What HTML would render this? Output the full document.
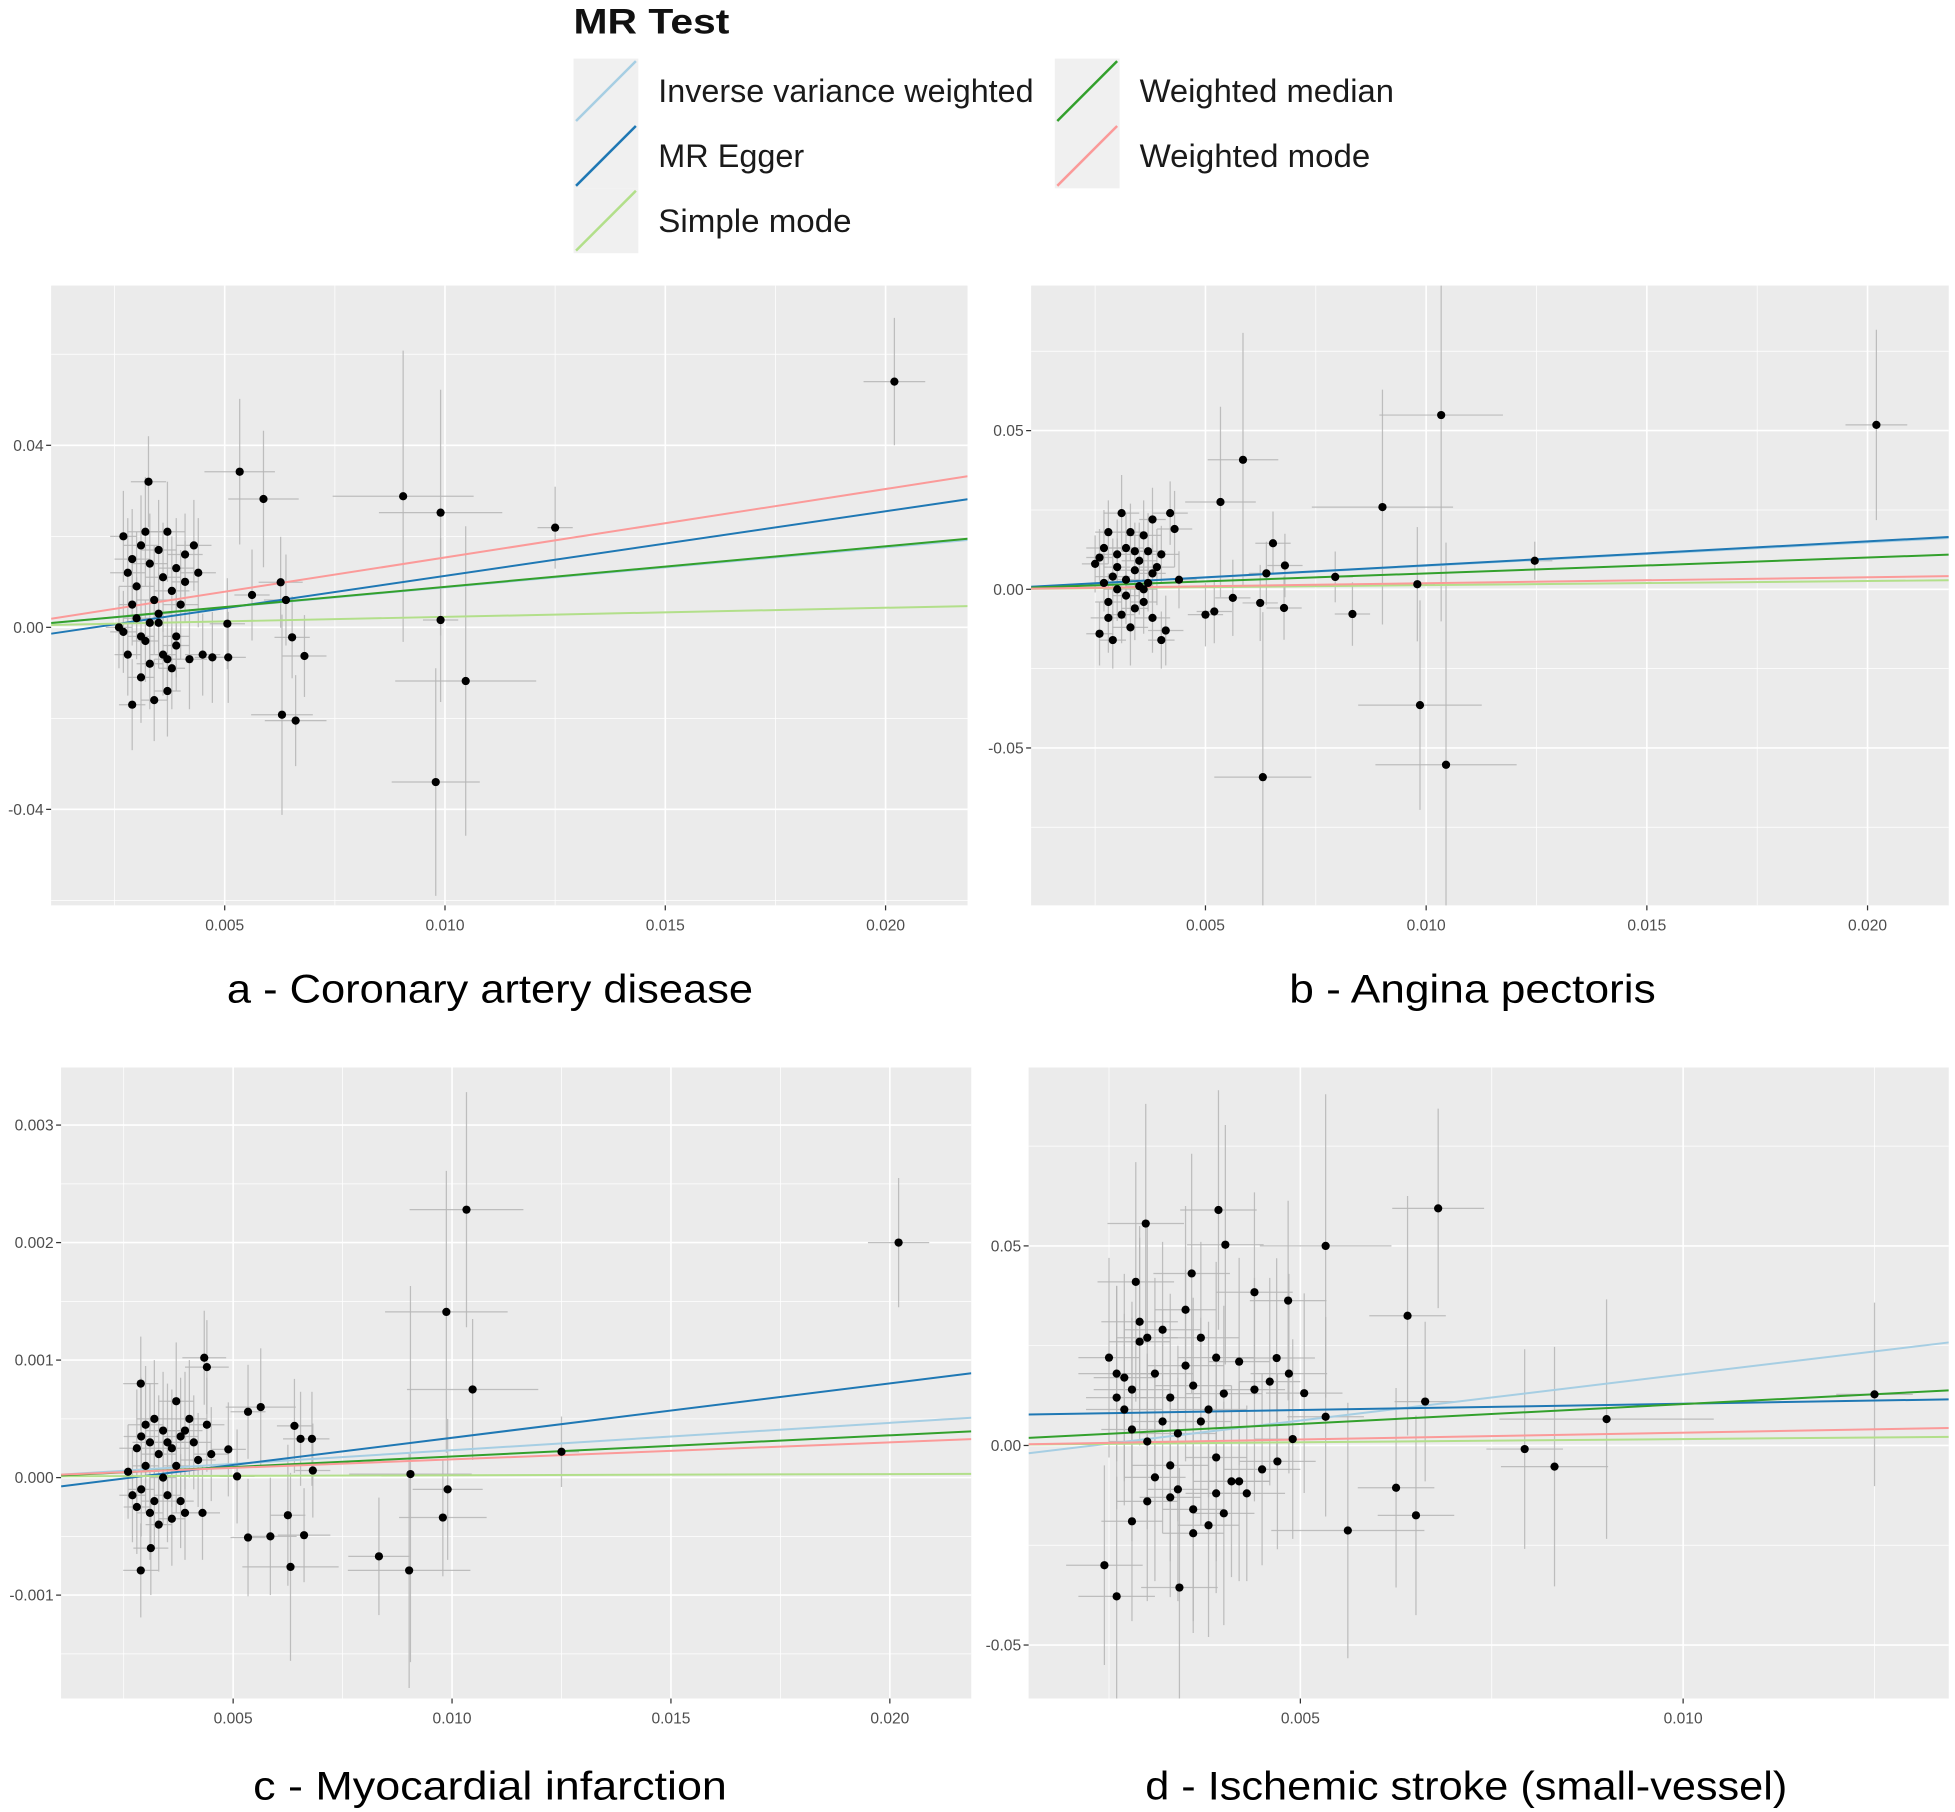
<!DOCTYPE html>
<html><head><meta charset="utf-8">
<style>
html,body{margin:0;padding:0;background:#fff;}
svg{display:block;}
text{font-family:"Liberation Sans",sans-serif;}
</style></head>
<body>
<svg id="fig" xmlns="http://www.w3.org/2000/svg" width="1955" height="1812" viewBox="0 0 1568 1453" preserveAspectRatio="none">
<g id="legend">
  <text x="460" y="27" font-size="28" font-weight="bold" fill="#111" textLength="125" lengthAdjust="spacingAndGlyphs">MR Test</text>
</g>
<g id="panels"></g>
<g id="captions">
  <text x="393" y="804" font-size="32" text-anchor="middle" fill="#000" textLength="422" lengthAdjust="spacingAndGlyphs">a - Coronary artery disease</text>
  <text x="1181" y="804" font-size="32" text-anchor="middle" fill="#000" textLength="294" lengthAdjust="spacingAndGlyphs">b - Angina pectoris</text>
  <text x="393" y="1443" font-size="32" text-anchor="middle" fill="#000" textLength="380" lengthAdjust="spacingAndGlyphs">c - Myocardial infarction</text>
  <text x="1176" y="1443" font-size="32" text-anchor="middle" fill="#000" textLength="515" lengthAdjust="spacingAndGlyphs">d - Ischemic stroke (small-vessel)</text>
</g>
</svg>
<script>
// ---- method metadata ----
const methods = ["Inverse variance weighted","MR Egger","Simple mode","Weighted median","Weighted mode"];
const methodColors = ["#a6cee3","#1f78b4","#b2df8a","#33a02c","#fb9a99"];

// ---- Panel a: Coronary artery disease ----
const aX  = [0.0202,0.00534,0.00588,0.00905,0.0099,0.0125,0.0099,0.01047,0.00979,0.00627,0.00639,0.00653,0.00681,0.0063,0.00661,0.00562,0.00506,0.00508,0.00472,0.00327,
  0.0026,0.0027,0.0028,0.0028,0.0029,0.0029,0.0030,0.0030,0.0031,0.0031,0.0032,0.0032,0.0033,0.0033,0.0034,0.0034,0.0035,0.0035,0.0036,0.0036,0.0037,0.0037,0.0038,0.0038,0.0039,0.0039,0.0040,0.0041,0.0042,0.0043,0.0044,0.0045,0.0027,0.0029,0.0031,0.0033,0.0035,0.0037,0.0039,0.0041];
const aY  = [0.054,0.0342,0.0282,0.0288,0.0252,0.0219,0.0016,-0.0118,-0.034,0.0099,0.006,-0.0022,-0.0063,-0.0192,-0.0205,0.0071,0.0008,-0.0066,-0.0066,0.032,
  0.000,0.020,0.012,-0.006,0.015,-0.017,0.009,0.002,0.018,-0.011,0.021,-0.003,0.014,-0.008,0.006,-0.016,0.017,0.001,0.011,-0.006,0.021,-0.014,0.008,-0.009,0.013,-0.004,0.005,0.016,-0.007,0.018,0.012,-0.006,-0.001,0.005,-0.002,0.001,0.003,-0.007,-0.002,0.010];
const aSx = [0.0007,0.0008,0.0008,0.0016,0.0014,0.0004,0.0004,0.0016,0.001,0.0005,0.0005,0.0004,0.0005,0.0007,0.0007,0.0004,0.0004,0.0004,0.0004,0.0004,
  0.0003,0.0003,0.0004,0.0003,0.0004,0.0003,0.0004,0.0003,0.0004,0.0003,0.0004,0.0003,0.0004,0.0003,0.0004,0.0003,0.0004,0.0003,0.0004,0.0003,0.0004,0.0003,0.0004,0.0003,0.0004,0.0003,0.0004,0.0004,0.0004,0.0004,0.0004,0.0004,0.0003,0.0003,0.0003,0.0003,0.0003,0.0003,0.0003,0.0003];
const aSy = [0.014,0.016,0.015,0.032,0.027,0.009,0.018,0.034,0.025,0.01,0.01,0.009,0.009,0.022,0.01,0.01,0.01,0.01,0.01,0.01,
  0.009,0.01,0.012,0.009,0.011,0.01,0.012,0.009,0.011,0.01,0.012,0.009,0.011,0.01,0.012,0.009,0.011,0.01,0.012,0.009,0.011,0.01,0.012,0.009,0.011,0.01,0.012,0.009,0.011,0.01,0.012,0.009,0.009,0.009,0.009,0.009,0.009,0.009,0.009,0.009];
const aIntercepts = [0, -0.0029, 0.0003, 0, 0.0003];
const aSlopes     = [0.878, 1.42, 0.2, 0.89, 1.505];
const aXTicks = [0.005,0.010,0.015,0.020];
const aXTickLabels = ["0.005","0.010","0.015","0.020"];
const aYTicks = [-0.04,0,0.04];
const aYTickLabels = ["-0.04","0.00","0.04"];

// ---- Panel b: Angina pectoris ----
const bX  = [0.0202,0.01034,0.00585,0.00534,0.00901,0.01246,0.00833,0.00794,0.0098,0.00986,0.01045,0.0063,0.00653,0.00638,0.0068,0.00678,0.00624,0.00562,0.0050,0.0052,
  0.0025,0.0026,0.0027,0.0027,0.0028,0.0028,0.0029,0.0029,0.0030,0.0030,0.0031,0.0031,0.0032,0.0032,0.0033,0.0033,0.0034,0.0034,0.0035,0.0035,0.0036,0.0036,0.0037,0.0037,0.0038,0.0038,0.0039,0.0040,0.0041,0.0042,0.0043,0.0044,0.0026,0.0028,0.0030,0.0032,0.0034,0.0036,0.0038,0.0040];
const bY  = [0.0518,0.0549,0.0408,0.0275,0.0259,0.009,-0.0078,0.0039,0.0016,-0.0365,-0.0553,-0.0592,0.0145,0.005,0.0075,-0.0059,-0.0043,-0.0027,-0.008,-0.007,
  0.008,-0.014,0.013,0.002,-0.009,0.018,0.004,-0.016,0.011,0.000,0.024,-0.008,0.013,0.003,-0.012,0.018,0.006,-0.006,0.009,0.001,0.017,-0.004,0.012,0.002,-0.009,0.022,0.007,0.011,-0.013,0.024,0.019,0.003,0.010,-0.004,0.007,-0.002,0.012,0.000,0.005,-0.016];
const bSx = [0.0007,0.0014,0.0008,0.0008,0.0016,0.0004,0.0004,0.0004,0.0004,0.0014,0.0016,0.0011,0.0004,0.0004,0.0004,0.0004,0.0004,0.0004,0.0004,0.0004,
  0.0003,0.0003,0.0004,0.0003,0.0004,0.0003,0.0004,0.0003,0.0004,0.0003,0.0004,0.0003,0.0004,0.0003,0.0004,0.0003,0.0004,0.0003,0.0004,0.0003,0.0004,0.0003,0.0004,0.0003,0.0004,0.0003,0.0004,0.0004,0.0004,0.0004,0.0004,0.0004,0.0003,0.0003,0.0003,0.0003,0.0003,0.0003,0.0003,0.0003];
const bSy = [0.03,0.065,0.04,0.03,0.037,0.006,0.01,0.008,0.018,0.033,0.07,0.052,0.01,0.01,0.01,0.01,0.012,0.012,0.01,0.01,
  0.009,0.01,0.012,0.009,0.011,0.01,0.012,0.009,0.011,0.01,0.012,0.009,0.011,0.01,0.012,0.009,0.011,0.01,0.012,0.009,0.011,0.01,0.012,0.009,0.011,0.01,0.012,0.009,0.011,0.01,0.012,0.009,0.009,0.009,0.009,0.009,0.009,0.009,0.009,0.009];
const bIntercepts = [0, 0, 0, 0, 0];
const bSlopes     = [0.74, 0.755, 0.13, 0.5, 0.19];
const bXTicks = [0.005,0.010,0.015,0.020];
const bXTickLabels = ["0.005","0.010","0.015","0.020"];
const bYTicks = [-0.05,0,0.05];
const bYTickLabels = ["-0.05","0.00","0.05"];

// ---- Panel c: Myocardial infarction ----
const cX  = [0.0202,0.01033,0.00987,0.01047,0.0125,0.00905,0.0099,0.00979,0.00833,0.00902,0.00631,0.00662,0.00625,0.00534,0.00585,0.00563,0.00534,0.0064,0.00654,0.0068,0.00682,0.00434,0.0044,0.00489,0.00509,0.00289,0.00289,0.00312,
  0.0026,0.0027,0.0028,0.0028,0.0029,0.0029,0.0030,0.0030,0.0031,0.0031,0.0032,0.0032,0.0033,0.0033,0.0034,0.0034,0.0035,0.0035,0.0036,0.0036,0.0037,0.0037,0.0038,0.0038,0.0039,0.0039,0.0040,0.0041,0.0042,0.0043,0.0044,0.0045];
const cY  = [0.0020,0.00228,0.00141,0.00075,0.00022,0.00003,-0.0001,-0.00034,-0.00067,-0.00079,-0.00076,-0.00049,-0.00032,-0.00051,-0.0005,0.0006,0.00056,0.00044,0.00033,0.00033,0.00006,0.00102,0.00094,0.00024,0.00001,0.0008,-0.00079,-0.0006,
  0.00005,-0.00015,0.00025,-0.00025,0.00035,-0.0001,0.00045,0.0001,0.0003,-0.0003,0.0005,-0.0002,0.0002,-0.0004,0.0004,0.0,0.0003,-0.00015,0.00025,-0.00035,0.00065,0.0001,0.00035,-0.0002,0.0004,-0.0003,0.0005,0.0003,0.00015,-0.0003,0.00045,0.0002];
const cSx = [0.0007,0.0013,0.0014,0.0015,0.0004,0.0014,0.0008,0.001,0.0007,0.0014,0.0011,0.0006,0.0004,0.0004,0.0006,0.0008,0.0004,0.0004,0.0004,0.0004,0.0004,0.0005,0.0005,0.0004,0.0004,0.0004,0.0004,0.0004,
  0.0003,0.0003,0.0004,0.0003,0.0004,0.0003,0.0004,0.0003,0.0004,0.0003,0.0004,0.0003,0.0004,0.0003,0.0004,0.0003,0.0004,0.0003,0.0004,0.0003,0.0004,0.0003,0.0004,0.0003,0.0004,0.0003,0.0004,0.0004,0.0004,0.0004,0.0004,0.0004];
const cSy = [0.00055,0.001,0.0012,0.0006,0.0003,0.0016,0.0006,0.0005,0.0005,0.001,0.0008,0.0004,0.0006,0.0005,0.0005,0.0005,0.0004,0.0004,0.0004,0.0004,0.0004,0.0004,0.0004,0.0004,0.0004,0.0004,0.0004,0.0004,
  0.0004,0.0004,0.0005,0.0004,0.0005,0.0004,0.0005,0.0004,0.0005,0.0004,0.0005,0.0004,0.0005,0.0004,0.0005,0.0004,0.0005,0.0004,0.0005,0.0004,0.0005,0.0004,0.0005,0.0004,0.0005,0.0004,0.0005,0.0004,0.0004,0.0004,0.0004,0.0004];
const cIntercepts = [0, -0.000124, 0.00001, 0, 0.00001];
const cSlopes     = [0.0233, 0.0463, 0.001, 0.018, 0.0145];
const cXTicks = [0.005,0.010,0.015,0.020];
const cXTickLabels = ["0.005","0.010","0.015","0.020"];
const cYTicks = [-0.001,0,0.001,0.002,0.003];
const cYTickLabels = ["-0.001","0.000","0.001","0.002","0.003"];

// ---- Panel d: Ischemic stroke (small-vessel) ----
const dX  = [0.0068,0.00533,0.0064,0.00663,0.0125,0.009,0.00793,0.00832,0.00562,0.00651,0.00625,0.00485,0.00505,0.00533,0.0049,0.00484,0.0044,0.00469,0.00393,0.00402,0.00358,0.00298,0.00285,0.00244,0.0026,0.00342,
  0.0025,0.0026,0.0026,0.0027,0.0027,0.0028,0.0028,0.0029,0.0029,0.0030,0.0030,0.0031,0.0031,0.0032,0.0032,0.0033,0.0033,0.0034,0.0034,0.0035,0.0035,0.0036,0.0036,0.0037,0.0037,0.0038,0.0038,0.0039,0.0039,0.0040,0.0040,0.0041,0.0042,0.0043,0.0044,0.0045,0.0046,0.0047,0.0028,0.0030,0.0033,0.0036,0.0039,0.0042];
const dY  = [0.0594,0.05,0.0325,0.011,0.0128,0.0066,-0.0009,-0.0053,-0.0213,-0.0175,-0.0106,0.018,0.0131,0.0072,0.0016,0.0363,0.0384,0.0219,0.059,0.0503,0.0431,0.0556,0.041,-0.03,-0.0378,-0.0356,
  0.022,0.018,0.012,0.009,0.017,0.014,0.004,0.031,0.026,0.001,0.027,0.018,-0.008,0.029,0.006,-0.005,0.012,0.003,-0.011,0.02,0.034,0.015,-0.016,0.027,0.006,0.009,-0.02,0.022,-0.003,0.013,-0.017,-0.009,0.021,-0.012,0.014,-0.006,0.016,-0.004,-0.019,-0.014,-0.013,-0.022,-0.012,-0.009];
const dSx = [0.0006,0.00086,0.0005,0.0004,0.0005,0.0014,0.0005,0.0007,0.001,0.0005,0.0005,0.0005,0.0005,0.0005,0.0005,0.0005,0.0005,0.0005,0.0005,0.0005,0.0005,0.0005,0.0005,0.0005,0.0005,0.0005,
  0.0004,0.0005,0.0004,0.0005,0.0004,0.0005,0.0004,0.0005,0.0004,0.0005,0.0004,0.0005,0.0004,0.0005,0.0004,0.0005,0.0004,0.0005,0.0004,0.0005,0.0004,0.0005,0.0004,0.0005,0.0004,0.0005,0.0004,0.0005,0.0004,0.0005,0.0004,0.0005,0.0004,0.0005,0.0004,0.0005,0.0004,0.0005,0.0004,0.0004,0.0004,0.0004,0.0004,0.0004];
const dSy = [0.025,0.038,0.03,0.02,0.023,0.03,0.025,0.03,0.032,0.025,0.025,0.025,0.025,0.025,0.025,0.025,0.025,0.025,0.03,0.03,0.03,0.03,0.03,0.025,0.03,0.03,
  0.025,0.022,0.028,0.024,0.026,0.022,0.028,0.024,0.026,0.022,0.028,0.024,0.026,0.022,0.028,0.024,0.026,0.022,0.028,0.024,0.026,0.022,0.028,0.024,0.026,0.022,0.028,0.024,0.026,0.022,0.028,0.024,0.026,0.022,0.028,0.024,0.026,0.022,0.025,0.025,0.025,0.025,0.025,0.025];
const dIntercepts = [-0.0053, 0.0073, 0, 0.00046, -0.0002];
const dSlopes     = [2.31, 0.316, 0.16, 0.99, 0.34];
const dXTicks = [0.005,0.010];
const dXTickLabels = ["0.005","0.010"];
const dYTicks = [-0.05,0,0.05];
const dYTickLabels = ["-0.05","0.00","0.05"];

const NS = "http://www.w3.org/2000/svg";
function mk(tag, attrs, parent){
  const e = document.createElementNS(NS, tag);
  for (const k in attrs) e.setAttribute(k, attrs[k]);
  parent.appendChild(e);
  return e;
}

// ---- legend ----
const legend = document.getElementById('legend');
const legendPos = [[460,47],[460,99],[460,151],[846,47],[846,99]];
const legendTextLen = [301,117,155,204,185];
methods.forEach((m,i)=>{
  const [lx,ly] = legendPos[i];
  const g = mk('g',{},legend);
  
  
  mk('rect',{x:lx,y:ly,width:52,height:52,fill:'#f0f0f0'},g);
  mk('line',{x1:lx+2,y1:ly+50,x2:lx+50,y2:ly+2,stroke:methodColors[i],'stroke-width':2},g);
  const t = mk('text',{x:lx+68,y:ly+35,'font-size':26,fill:'#1a1a1a',textLength:legendTextLen[i],lengthAdjust:'spacingAndGlyphs'},g);
  t.textContent = m;
});

// ---- panels ----
function panel(id, box, xr, yr, X, Y, SX, SY, ints, slopes, xt, xtl, yt, ytl, xMinor, yMinor){
  const root = document.getElementById('panels');
  const g = mk('g',{},root);
  
  
  const [L,T,R,B] = box;
  const sx = v => L + (v - xr[0])/(xr[1]-xr[0])*(R-L);
  const sy = v => B - (v - yr[0])/(yr[1]-yr[0])*(B-T);
  const bg = mk('rect',{x:L,y:T,width:R-L,height:B-T,fill:'#ebebeb'},g);
  
  
  const clipId = 'clip-'+id;
  const cp = mk('clipPath',{id:clipId},g);
  mk('rect',{x:L,y:T,width:R-L,height:B-T},cp);
  const grid = mk('g',{},g);
  
  
  xMinor.forEach(v=>mk('line',{x1:sx(v),x2:sx(v),y1:T,y2:B,stroke:'#fff','stroke-width':0.6},grid));
  yMinor.forEach(v=>mk('line',{x1:L,x2:R,y1:sy(v),y2:sy(v),stroke:'#fff','stroke-width':0.6},grid));
  xt.forEach(v=>mk('line',{x1:sx(v),x2:sx(v),y1:T,y2:B,stroke:'#fff','stroke-width':1.3},grid));
  yt.forEach(v=>mk('line',{x1:L,x2:R,y1:sy(v),y2:sy(v),stroke:'#fff','stroke-width':1.3},grid));
  // axes ticks
  const ax = mk('g',{},g);
  
  
  xt.forEach((v,i)=>{
    mk('line',{x1:sx(v),x2:sx(v),y1:B,y2:B+4,stroke:'#333','stroke-width':1},ax);
    const t = mk('text',{x:sx(v),y:B+20,'font-size':12.5,'text-anchor':'middle',fill:'#4d4d4d'},ax);
    
    
    t.textContent = xtl[i];
  });
  const ay = mk('g',{},g);
  
  
  yt.forEach((v,i)=>{
    mk('line',{x1:L-4,x2:L,y1:sy(v),y2:sy(v),stroke:'#333','stroke-width':1},ay);
    const t = mk('text',{x:L-6,y:sy(v)+4.5,'font-size':12.5,'text-anchor':'end',fill:'#4d4d4d'},ay);
    
    
    t.textContent = ytl[i];
  });
  const clipG = mk('g',{'clip-path':'url(#'+clipId+')'},g);
  // error bars
  const eb = mk('g',{stroke:'#b5b5b5','stroke-width':1,'stroke-opacity':0.85},clipG);
  
  
  X.forEach((x,i)=>{
    mk('line',{x1:sx(x),x2:sx(x),y1:sy(Y[i]-SY[i]),y2:sy(Y[i]+SY[i])},eb);
    mk('line',{x1:sx(x-SX[i]),x2:sx(x+SX[i]),y1:sy(Y[i]),y2:sy(Y[i])},eb);
  });
  // regression lines
  const lg = mk('g',{},clipG);
  
  
  methods.forEach((m,k)=>{
    const ln = mk('line',{x1:sx(xr[0]),y1:sy(ints[k]+slopes[k]*xr[0]),x2:sx(xr[1]),y2:sy(ints[k]+slopes[k]*xr[1]),stroke:methodColors[k],'stroke-width':1.6},lg);
    
    
  });
  // points
  const pg = mk('g',{fill:'#000'},clipG);
  
  
  X.forEach((x,i)=>{
    const c = mk('circle',{cx:sx(x),cy:sy(Y[i]),r:3.3},pg);
    
    
  });
}

panel('a',[41,229,776,726],[0.00106,0.02186],[-0.0611,0.0751],aX,aY,aSx,aSy,aIntercepts,aSlopes,aXTicks,aXTickLabels,aYTicks,aYTickLabels,[0.0025,0.0075,0.0125,0.0175],[-0.06,-0.02,0.02,0.06]);
panel('b',[827,229,1563,726],[0.00105,0.02184],[-0.0996,0.0957],bX,bY,bSx,bSy,bIntercepts,bSlopes,bXTicks,bXTickLabels,bYTicks,bYTickLabels,[0.0025,0.0075,0.0125,0.0175],[-0.075,-0.025,0.025,0.075]);
panel('c',[49,856,779,1362],[0.00107,0.02186],[-0.00188,0.00349],cX,cY,cSx,cSy,cIntercepts,cSlopes,cXTicks,cXTickLabels,cYTicks,cYTickLabels,[0.0025,0.0075,0.0125,0.0175],[-0.0015,-0.0005,0.0005,0.0015,0.0025]);
panel('d',[825,856,1563,1362],[0.00145,0.01347],[-0.0634,0.0947],dX,dY,dSx,dSy,dIntercepts,dSlopes,dXTicks,dXTickLabels,dYTicks,dYTickLabels,[0.0025,0.0075,0.0125],[-0.075,-0.025,0.025,0.075]);
</script>
</body></html>
